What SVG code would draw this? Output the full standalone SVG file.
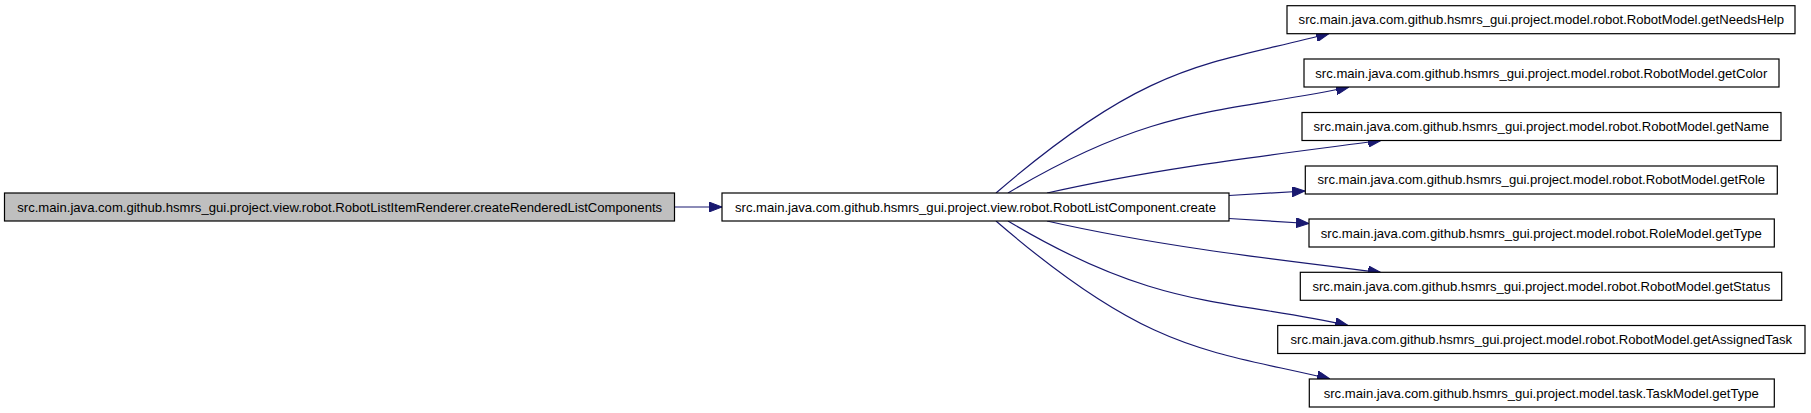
<svg xmlns="http://www.w3.org/2000/svg" width="1811" height="413" viewBox="0 0 1811 413">
<defs>
<style>
.node rect{fill:#ffffff;stroke:#000000;stroke-width:1.2}
.node.root rect{fill:#bfbfbf}
.node text{font-family:"Liberation Sans",Arial,Helvetica,sans-serif;font-size:13.1px;fill:#000000;text-anchor:middle}
.edges path{fill:none;stroke:#191970;stroke-width:1.2}
</style>
<marker id="arrow" viewBox="0 0 13 10" refX="13" refY="5" markerWidth="13" markerHeight="10" markerUnits="userSpaceOnUse" orient="auto">
<path d="M0,0 L13,5 L0,10 z" fill="#191970" stroke="#191970" stroke-width="1"/>
</marker>
</defs>
<rect width="1811" height="413" fill="#ffffff"/>
<g class="edges">
<path d="M675,207 L722,207" marker-end="url(#arrow)"/>
<path d="M996,193 C1150,60 1209,65 1329,33.5" marker-end="url(#arrow)"/>
<path d="M1008,193 C1158,103 1229,113 1349,87" marker-end="url(#arrow)"/>
<path d="M1047,193 C1157,168 1271,155 1381,140.5" marker-end="url(#arrow)"/>
<path d="M1229,195.5 L1305,191" marker-end="url(#arrow)"/>
<path d="M1229,218.5 L1309,223.5" marker-end="url(#arrow)"/>
<path d="M1047,221 C1157,246 1271,259 1381,272.5" marker-end="url(#arrow)"/>
<path d="M1008,221 C1158,311 1228,298.5 1348,325.5" marker-end="url(#arrow)"/>
<path d="M996,221 C1150,354 1209,350 1330,379" marker-end="url(#arrow)"/>
</g>
<g id="node1" class="node root">
<rect x="4.5" y="193" width="670" height="28"/>
<text x="339.7" y="211.6">src.main.java.com.github.hsmrs_gui.project.view.robot.RobotListItemRenderer.createRenderedListComponents</text>
</g>
<g id="node2" class="node">
<rect x="722" y="193" width="507" height="28"/>
<text x="975.5" y="211.6">src.main.java.com.github.hsmrs_gui.project.view.robot.RobotListComponent.create</text>
</g>
<g id="node3" class="node">
<rect x="1287" y="5.7" width="508" height="28"/>
<text x="1541.3" y="24.3">src.main.java.com.github.hsmrs_gui.project.model.robot.RobotModel.getNeedsHelp</text>
</g>
<g id="node4" class="node">
<rect x="1304" y="59" width="475" height="28"/>
<text x="1541.3" y="77.6">src.main.java.com.github.hsmrs_gui.project.model.robot.RobotModel.getColor</text>
</g>
<g id="node5" class="node">
<rect x="1302" y="112.5" width="479" height="28"/>
<text x="1541.3" y="130.9">src.main.java.com.github.hsmrs_gui.project.model.robot.RobotModel.getName</text>
</g>
<g id="node6" class="node">
<rect x="1305.3" y="166" width="472" height="28"/>
<text x="1541.3" y="184.3">src.main.java.com.github.hsmrs_gui.project.model.robot.RobotModel.getRole</text>
</g>
<g id="node7" class="node">
<rect x="1309" y="219" width="465.3" height="28"/>
<text x="1541.3" y="237.6">src.main.java.com.github.hsmrs_gui.project.model.robot.RoleModel.getType</text>
</g>
<g id="node8" class="node">
<rect x="1300.3" y="272.3" width="481.4" height="28"/>
<text x="1541.3" y="290.9">src.main.java.com.github.hsmrs_gui.project.model.robot.RobotModel.getStatus</text>
</g>
<g id="node9" class="node">
<rect x="1277.7" y="325.5" width="527.3" height="28"/>
<text x="1541.3" y="344.2">src.main.java.com.github.hsmrs_gui.project.model.robot.RobotModel.getAssignedTask</text>
</g>
<g id="node10" class="node">
<rect x="1309.3" y="379" width="465" height="28"/>
<text x="1541.3" y="397.6">src.main.java.com.github.hsmrs_gui.project.model.task.TaskModel.getType</text>
</g>
</svg>
